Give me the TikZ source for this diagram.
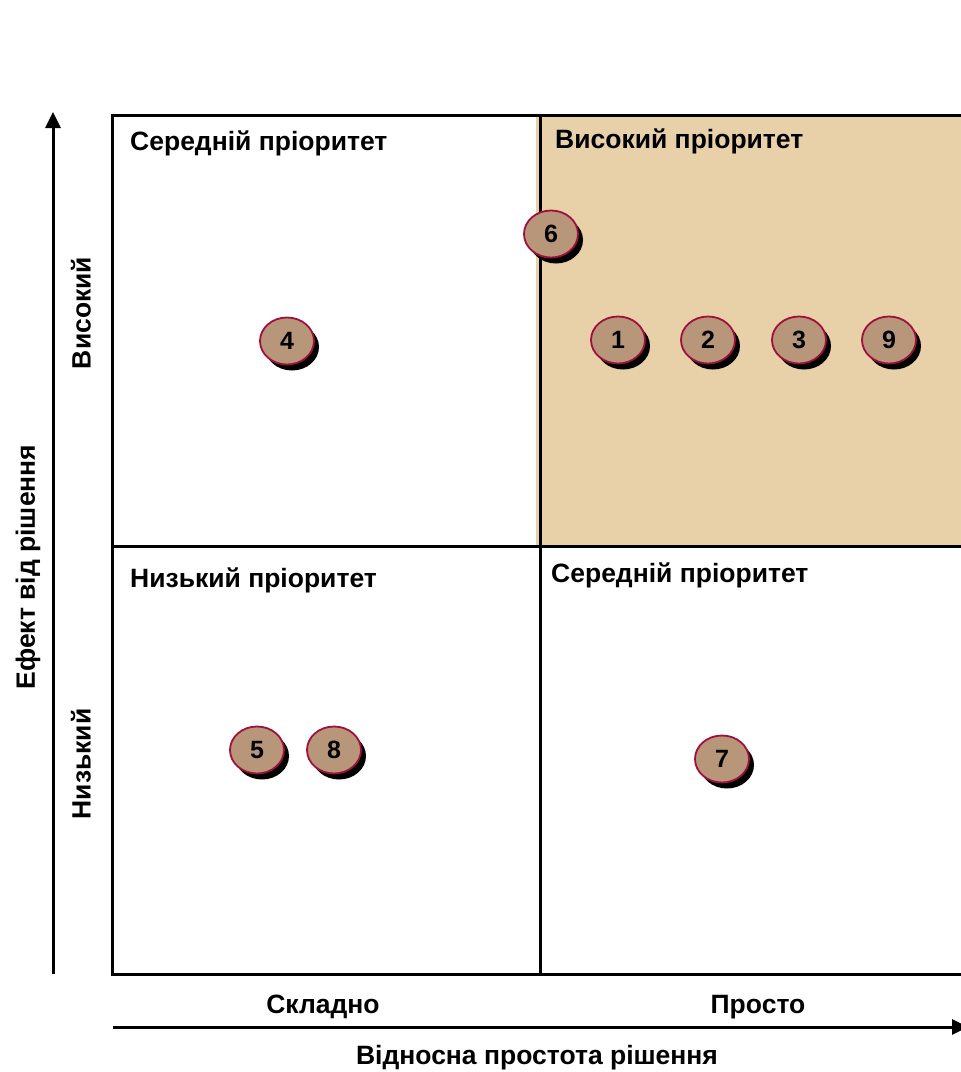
\documentclass[tikz,border=0pt]{standalone}
\usepackage{fontspec}
\setmainfont{Liberation Sans}
\usetikzlibrary{arrows.meta,shapes.geometric}
\definecolor{quadfill}{HTML}{E8D0A8}
\definecolor{dotfill}{HTML}{B8967A}
\definecolor{dotedge}{HTML}{A0103C}
\tikzset{
  frameline/.style={line width=3pt, black},
  axisline/.style={line width=3pt, -{Triangle[width=15pt,length=16pt]}},
  quadlabel/.style={anchor=west, font=\bfseries\fontsize{26.5}{30}\selectfont, inner sep=0pt},
  axislabel/.style={font=\bfseries\fontsize{26.5}{30}\selectfont, inner sep=0pt},
  item/.style={ellipse, minimum width=54pt, minimum height=47pt, inner sep=0pt,
    fill=dotfill, draw=dotedge, line width=1.8pt,
    font=\bfseries\fontsize{25}{28}\selectfont},
}
\newcommand{\itemdot}[3]{%
  \fill[black] (#2+5,#3+6) ellipse (27pt and 23.5pt);
  \node[item] (#1) at (#2,#3) {#1};
}
\begin{document}
\begin{tikzpicture}[x=1pt,y=-1pt]
\useasboundingbox (0,0) rectangle (961,1072);
\clip (0,0) rectangle (961,1072);
\fill[white] (0,0) rectangle (961,1072);
% high-priority quadrant
\fill[quadfill] (536,116) rectangle (980,545);
% quadrant frame
\draw[frameline] (112,115) rectangle (980,974);
\draw[frameline] (112,546) -- (980,546);
\draw[frameline] (540,115) -- (540,974);
% axes
\coordinate (ybot) at (53,974);
\coordinate (ytop) at (53,112);
\draw[axisline] (ybot) -- (ytop);
\coordinate (xl) at (113,1027);
\coordinate (xr) at (968,1027);
\draw[axisline] (xl) -- (xr);
% quadrant titles
\node[quadlabel] (tl) at (130,143) {Середній пріоритет};
\node[quadlabel] (tr) at (555,141) {Високий пріоритет};
\node[quadlabel] (bl) at (130,580) {Низький пріоритет};
\node[quadlabel] (br) at (551,575) {Середній пріоритет};
% axis labels
\node[axislabel] (hard) at (323,1007) {Складно};
\node[axislabel] (easy) at (758,1007) {Просто};
\node[axislabel] (xtitle) at (537,1058) {Відносна простота рішення};
\node[axislabel, rotate=90] (ytitle) at (28,567) {Ефект від рішення};
\node[axislabel, rotate=90] (high) at (81,313) {Високий};
\node[axislabel, rotate=90] (low) at (81,764) {Низький};
% numbered items
\itemdot{1}{618}{340}
\itemdot{2}{708}{340}
\itemdot{3}{799}{340}
\itemdot{9}{889}{340}
\itemdot{4}{287}{341}
\itemdot{6}{551}{234}
\itemdot{5}{257}{750}
\itemdot{8}{334}{750}
\itemdot{7}{722}{759}
\end{tikzpicture}
\end{document}
